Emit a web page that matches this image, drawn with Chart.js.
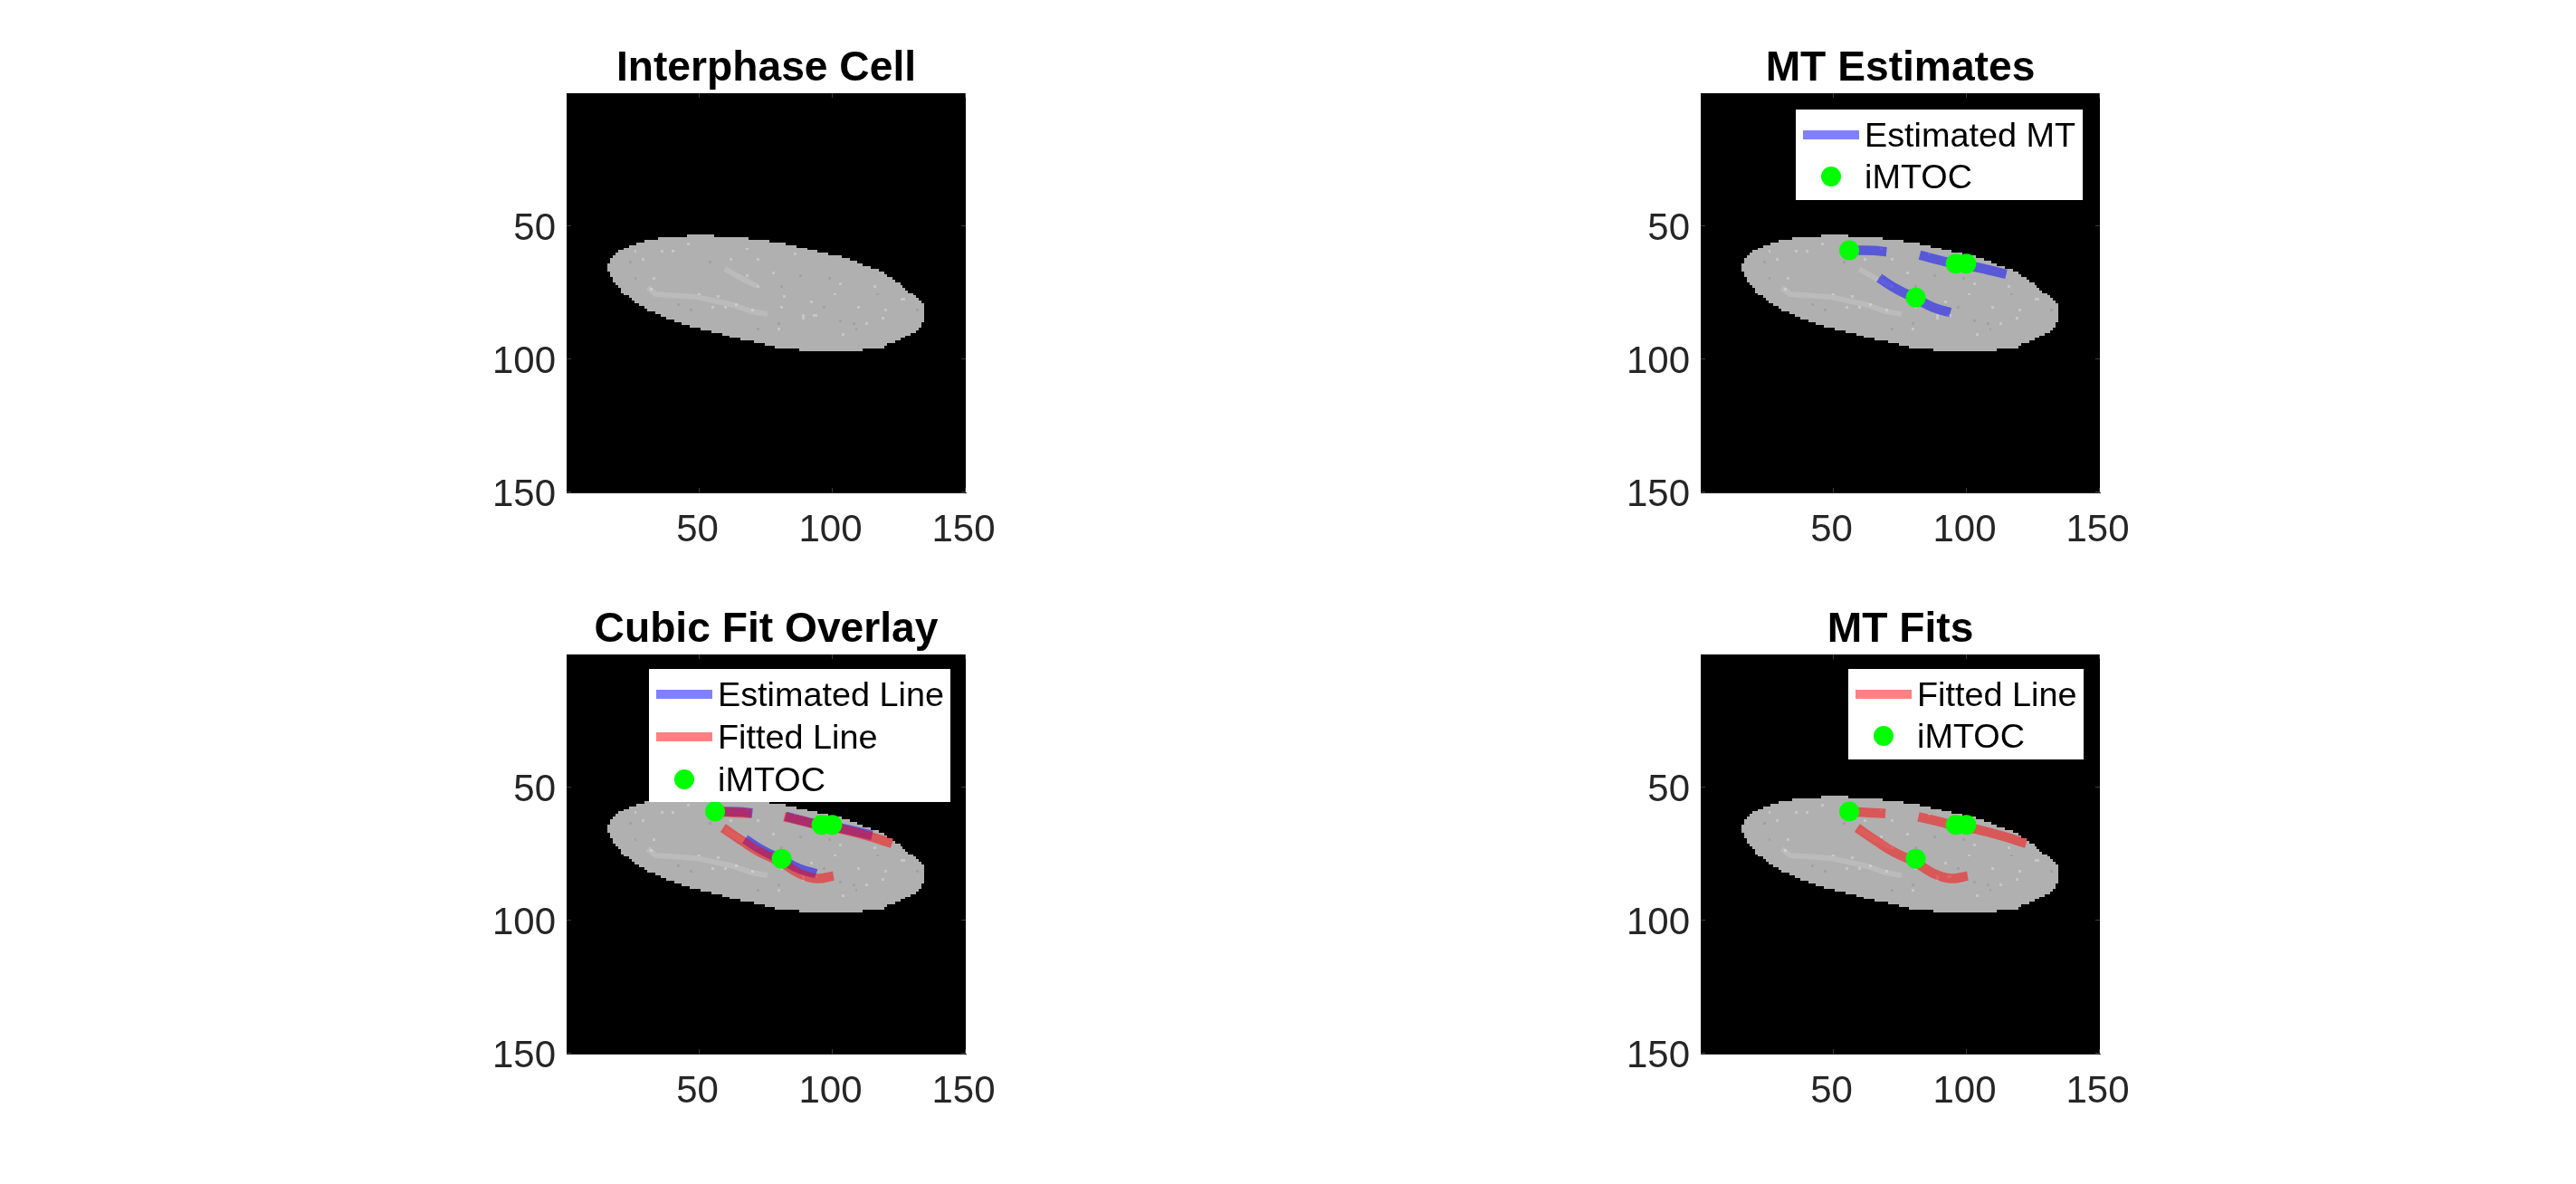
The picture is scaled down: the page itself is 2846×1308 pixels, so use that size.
<!DOCTYPE html>
<html lang="en">
<head>
    <meta charset="UTF-8">
    <title>Interphase Cell MT Fits</title>
    <script src="https://cdn.jsdelivr.net/npm/chart.js"></script>
    <style>
        html, body { margin: 0; background: #fff; overflow: hidden; }
        canvas { position: absolute; }
    </style>
</head>
<body>
    <canvas id="cellChart" width="841" height="621" style="left:426px;top:13px"></canvas>
    <canvas id="estChart" width="841" height="621" style="left:1679px;top:13px"></canvas>
    <canvas id="overlayChart" width="841" height="621" style="left:426px;top:633px"></canvas>
    <canvas id="fitChart" width="841" height="621" style="left:1679px;top:633px"></canvas>

    <script>
        const tickValues = [50, 100, 150];

        // cell mask: first and last lit column
        const cellRows = [54,55,56,57,58,59,60,61,62,63,64,65,66,67,68,69,70,71,72,73,74,75,76,77,78,79,80,81,82,83,84,85,86,87,88,89,90,91,92,93,94,95,96,97];
        const cellFirst = [46,35,30,27,24,22,20,19,18,17,17,16,16,16,17,17,18,18,19,20,21,21,22,24,25,26,28,30,31,34,36,38,41,44,47,51,55,59,62,66,71,75,79,88];
        const cellLast = [55,68,76,82,86,90,94,98,103,106,109,111,114,117,119,120,122,123,125,126,127,128,130,131,132,133,134,134,134,134,134,134,134,133,133,132,131,129,127,125,123,120,119,111];

        // brighter filaments seen inside the cell
        const streakMainX = [31, 34, 49, 63, 70, 76];
        const streakMainY = [73.5, 76, 77, 80, 82.5, 83.5];
        const streakUpperX = [60, 67, 72];
        const streakUpperY = [66.5, 70.5, 73];

        // single cells that stand out from the mean grey
        const brightCols = [32,70,55,60,64,68,89,26,29,36,68,72,126,120,101,93,81,57,50,33,86,78,110,40,46,62,72,104,113,80,89,94,92,82,127,119,103,116];
        const brightRows = [74,82,81,81,80,59,84,60,63,60,69,73,78,82,76,84,81,77,76,70,61,68,81,60,57,63,63,91,87,89,85,84,79,77,78,85,72,73];
        const darkCols = [47,42,81,88,99,109,72,26,24,54,117,80,103,132,97,108];
        const darkRows = [82,80,73,69,70,89,89,70,64,64,76,87,86,82,81,87];

        const estAX = [56.3, 59.3, 65.3, 70.3];
        const estAY = [59.5, 59.5, 59.6, 60.1];
        const estBX = [82.8, 93.3, 103.8, 115.3];
        const estBY = [61.3, 64, 65.8, 68.5];
        const estCX = [67.5, 74.3, 81.3, 87.9, 94.3];
        const estCY = [69.9, 74.2, 77.6, 81, 82.9];

        const fitAX = [56.3, 63.3, 69.9];
        const fitAY = [59.6, 59.9, 60.3];
        const fitBX = [82.3, 90, 95.8, 103.8, 113.8, 122.8];
        const fitBY = [61.5, 63.3, 64.7, 66.1, 68.7, 71.5];
        const fitCX = [59.3, 66.8, 73, 81, 87.8, 94.5, 100.8];
        const fitCY = [65.7, 70.8, 74.7, 78.5, 82.7, 84.7, 83.7];

        const imtocX = [56.3, 81.3, 96.3, 100.3];
        const imtocY = [59.5, 77.3, 64.5, 64.5];

        const BLUE = 'rgba(0,0,255,0.5)';
        const RED = 'rgba(255,0,0,0.5)';
        const GREEN = '#00ff00';
        const INK = '#262626';
        const FONT = '"Liberation Sans", Arial, sans-serif';

        const pairs = (xs, ys) => xs.map((x, i) => ({ x: x, y: ys[i] }));

        function mtLine(label, xs, ys, color, order) {
            return {
                label: label,
                data: pairs(xs, ys),
                showLine: true,
                borderColor: color,
                borderWidth: 10.5,
                borderCapStyle: 'butt',
                tension: 0.4,
                pointRadius: 0,
                order: order
            };
        }

        function imtocDots() {
            return {
                label: 'iMTOC',
                data: pairs(imtocX, imtocY),
                showLine: false,
                pointRadius: 11,
                pointBackgroundColor: GREEN,
                pointBorderWidth: 0,
                order: 0
            };
        }

        const estLines = () => [
            mtLine('Estimated', estAX, estAY, BLUE, 2),
            mtLine('Estimated', estBX, estBY, BLUE, 2),
            mtLine('Estimated', estCX, estCY, BLUE, 2)
        ];
        const fitLines = () => [
            mtLine('Fitted', fitAX, fitAY, RED, 1),
            mtLine('Fitted', fitBX, fitBY, RED, 1),
            mtLine('Fitted', fitCX, fitCY, RED, 1)
        ];

        // black image background, the cell and its filaments
        const imagePlugin = {
            id: 'image',
            beforeDatasetsDraw(chart) {
                const { ctx, chartArea: a, scales: { x, y } } = chart;
                const cell = (c0, c1, row) => {
                    const x0 = Math.round(x.getPixelForValue(c0 - 0.15));
                    const x1 = Math.round(x.getPixelForValue(c1 + 0.85));
                    const y0 = Math.round(y.getPixelForValue(row - 0.5));
                    const y1 = Math.round(y.getPixelForValue(row + 0.5));
                    ctx.fillRect(x0, y0, x1 - x0, y1 - y0);
                };
                ctx.save();
                ctx.fillStyle = '#000';
                ctx.fillRect(a.left, a.top, a.width, a.height);
                ctx.fillStyle = '#b0b0b0';
                cellRows.forEach((row, i) => cell(cellFirst[i], cellLast[i], row));
                ctx.fillStyle = '#c6c6c6';
                brightCols.forEach((c, i) => cell(c, c, brightRows[i]));
                ctx.fillStyle = '#a2a2a2';
                darkCols.forEach((c, i) => cell(c, c, darkRows[i]));
                ctx.strokeStyle = 'rgba(255,255,255,0.14)';
                ctx.lineWidth = 6;
                ctx.lineJoin = 'round';
                [[streakMainX, streakMainY], [streakUpperX, streakUpperY]].forEach(([xs, ys]) => {
                    ctx.beginPath();
                    xs.forEach((v, i) => ctx.lineTo(x.getPixelForValue(v), y.getPixelForValue(ys[i])));
                    ctx.stroke();
                });
                ctx.restore();
            }
        };

        // legend sits inside the axes and has a matlab look, so it is drawn by hand
        const insideLegend = {
            id: 'insideLegend',
            afterDatasetsDraw(chart, args, opts) {
                const { ctx, chartArea: a } = chart;
                if (!opts.items) return;
                const b = opts.box;
                ctx.save();
                ctx.fillStyle = '#fff';
                ctx.fillRect(a.left + b.x, a.top + b.y, b.w, b.h);
                ctx.font = '37.8px ' + FONT;
                ctx.textBaseline = 'middle';
                opts.items.forEach((item, i) => {
                    const cy = a.top + b.y + b.first + i * b.step;
                    const sx = a.left + b.x + 8;
                    if (item.color) {
                        ctx.fillStyle = item.color;
                        ctx.fillRect(sx, cy - 5, 62, 10);
                    } else {
                        ctx.fillStyle = GREEN;
                        ctx.beginPath();
                        ctx.arc(sx + 31, cy, 11, 0, Math.PI * 2);
                        ctx.fill();
                    }
                    ctx.fillStyle = '#000';
                    ctx.fillText(item.text, sx + 68, cy + 3);
                });
                ctx.restore();
            }
        };

        // short ticks pointing inward on all four sides
        const boxTicks = {
            id: 'boxTicks',
            afterDraw(chart) {
                const { ctx, chartArea: a, scales: { x, y } } = chart;
                ctx.save();
                ctx.strokeStyle = '#3a3a3a';
                ctx.lineWidth = 1;
                ctx.beginPath();
                tickValues.forEach(v => {
                    const px = Math.round(x.getPixelForValue(v)) + 0.5;
                    const py = Math.round(y.getPixelForValue(v)) + 0.5;
                    ctx.moveTo(px, a.top); ctx.lineTo(px, a.top + 5);
                    ctx.moveTo(px, a.bottom); ctx.lineTo(px, a.bottom - 5);
                    ctx.moveTo(a.left, py); ctx.lineTo(a.left + 5, py);
                    ctx.moveTo(a.right, py); ctx.lineTo(a.right - 5, py);
                });
                ctx.stroke();
                ctx.restore();
            }
        };

        function axis(reverse, fit, padding, labelOffset) {
            return {
                type: 'linear',
                min: 0.5,
                max: 150.5,
                reverse: reverse,
                afterBuildTicks(scale) { scale.ticks = tickValues.map(v => ({ value: v })); },
                afterFit: fit,
                grid: { display: false, drawTicks: false },
                border: { display: true, color: INK, width: 1 },
                ticks: {
                    autoSkip: false,
                    maxRotation: 0,
                    color: INK,
                    padding: padding,
                    labelOffset: labelOffset,
                    font: { family: FONT, size: 42 }
                }
            };
        }

        function makePanel(id, title, datasets, legend) {
            new Chart(document.getElementById(id), {
                type: 'scatter',
                data: { datasets: datasets },
                options: {
                    responsive: false,
                    devicePixelRatio: 1,
                    animation: false,
                    scales: {
                        x: axis(false, s => { s.height = 90; }, 17, -1),
                        y: axis(true, s => { s.width = 200; }, 12, 5),
                        // empty right axis, keeps the title centred over the plot
                        yRight: {
                            position: 'right',
                            afterFit: s => { s.width = 200; },
                            grid: { display: false, drawTicks: false },
                            border: { display: false },
                            ticks: { display: false }
                        }
                    },
                    plugins: {
                        legend: { display: false },
                        tooltip: { enabled: false },
                        title: {
                            display: true,
                            text: title,
                            color: '#000',
                            font: { family: FONT, size: 46.2, weight: 'bold', lineHeight: 1 },
                            padding: { top: 40, bottom: 3.8 }
                        },
                        insideLegend: legend
                    }
                },
                plugins: [imagePlugin, insideLegend, boxTicks]
            });
        }

        makePanel('cellChart', 'Interphase Cell', [], {});

        makePanel('estChart', 'MT Estimates', [...estLines(), imtocDots()], {
            box: { x: 105, y: 18, w: 317, h: 100, first: 28, step: 46 },
            items: [{ text: 'Estimated MT', color: '#8080ff' }, { text: 'iMTOC' }]
        });

        makePanel('overlayChart', 'Cubic Fit Overlay', [...estLines(), ...fitLines(), imtocDots()], {
            box: { x: 91, y: 16, w: 333, h: 147, first: 28, step: 47 },
            items: [
                { text: 'Estimated Line', color: '#8080ff' },
                { text: 'Fitted Line', color: '#ff8080' },
                { text: 'iMTOC' }
            ]
        });

        makePanel('fitChart', 'MT Fits', [...fitLines(), imtocDots()], {
            box: { x: 163, y: 16, w: 260, h: 100, first: 28, step: 46 },
            items: [{ text: 'Fitted Line', color: '#ff8080' }, { text: 'iMTOC' }]
        });
    </script>
</body>
</html>
